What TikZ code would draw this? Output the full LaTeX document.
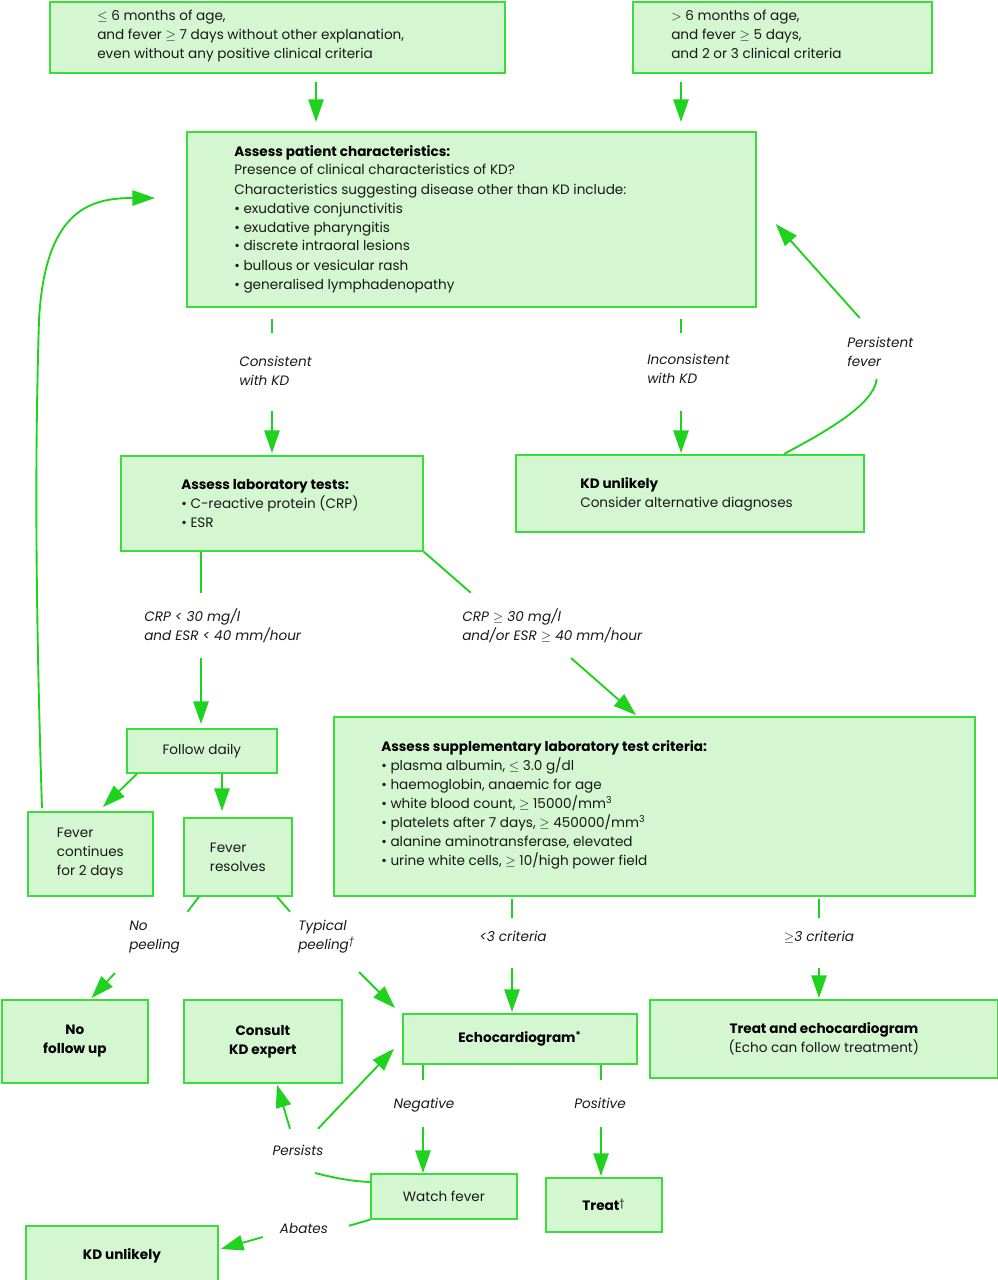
\documentclass[tikz,border=0pt]{standalone}
\usepackage{fontspec}
\setmainfont{Poppins}
\usetikzlibrary{arrows.meta,calc}
\definecolor{kdgreen}{RGB}{60,220,60}
\definecolor{kdfill}{RGB}{212,246,208}
\definecolor{kdline}{RGB}{30,210,30}
\definecolor{kdtext}{RGB}{25,25,25}
\newcommand{\kdpx}{0.75pt}
\newcommand{\kdfont}{\fontsize{10.2pt}{14.25pt}\selectfont}

\begin{document}
\begin{tikzpicture}[x=0.75pt,y=-0.75pt,font=\kdfont,text=kdtext,
    box/.style={draw=kdgreen,fill=kdfill,line width=1.3pt,inner sep=0pt,anchor=north west},
    boxsize/.style 2 args={minimum width=#1*\kdpx,minimum height=#2*\kdpx},
    head/.style={font=\kdfont\bfseries,text=black,align=center},
    txt/.style={align=left,inner sep=0pt,anchor=base west},
    lbl/.style={font=\kdfont\itshape,align=left,inner sep=0pt,anchor=base west},
    clbl/.style={font=\kdfont\itshape,inner sep=0pt,anchor=base},
    line/.style={draw=kdline,line width=1.4pt},
    arr/.style={line,-{Triangle[length=17pt,width=11.5pt]}}]
    \useasboundingbox (0,0) rectangle (998,1280);
    % boxes
    \node[box,boxsize={455}{71}] (ag1) at (49,1) {};
    \node[box,boxsize={299}{71}] (ag2) at (632,1) {};
    \node[box,boxsize={569}{175}] (pat) at (186,131) {};
    \node[box,boxsize={348}{77}] (kdu) at (515,454) {};
    \node[box,boxsize={302}{95}] (lab) at (120,455) {};
    \node[box,boxsize={150}{44},align=center] (daily) at (126,728) {Follow daily};
    \node[box,boxsize={125}{84},align=left] (fcont) at (27,811) {Fever\\continues\\for 2 days};
    \node[box,boxsize={108}{78},align=left] (fres) at (183,817) {Fever\\resolves};
    \node[box,boxsize={641}{179}] (supp) at (333,716) {};
    \node[box,boxsize={146}{83},head] (nofu) at (1,999) {No\\follow up};
    \node[box,boxsize={158}{83},head] (consult) at (183,999) {Consult\\KD expert};
    \node[box,boxsize={234}{50},head] (echo) at (402,1013) {Echocardiogram\textsuperscript{*}};
    \node[box,boxsize={348}{78},align=center] (treatecho) at (649,999) {\textcolor{black}{\bfseries Treat and echocardiogram}\\(Echo can follow treatment)};
    \node[box,boxsize={146}{45},align=center] (watch) at (370,1173) {Watch fever};
    \node[box,boxsize={116}{54},head] (treat) at (545,1177) {Treat\textsuperscript{\mdseries\textdagger}};
    \node[box,boxsize={192}{60},head] (kdu2) at (25,1225) {KD unlikely};
    % texts in the boxes (placed at the baseline of the last line)
    \node[txt] (ag1t) at (97,59) {$\leq$ 6 months of age,\\and fever $\geq$ 7 days without other explanation,\\even without any positive clinical criteria};
    \node[txt] (ag2t) at (671,59) {$>$ 6 months of age,\\and fever $\geq$ 5 days,\\and 2 or 3 clinical criteria};
    \node[txt] (patt) at (234,289) {\textcolor{black}{\bfseries Assess patient characteristics:}\\Presence of clinical characteristics of KD?\\Characteristics suggesting disease other than KD include:\\\textbullet\ exudative conjunctivitis\\\textbullet\ exudative pharyngitis\\\textbullet\ discrete intraoral lesions\\\textbullet\ bullous or vesicular rash\\\textbullet\ generalised lymphadenopathy};
    \node[txt] (kdut) at (580,507) {\textcolor{black}{\bfseries KD unlikely}\\Consider alternative diagnoses};
    \node[txt] (labt) at (181,527) {\textcolor{black}{\bfseries Assess laboratory tests:}\\\textbullet\ C-reactive protein (CRP)\\\textbullet\ ESR};
    \node[txt] (suppt) at (381,865) {\textcolor{black}{\bfseries Assess supplementary laboratory test criteria:}\\\textbullet\ plasma albumin, $\leq$ 3.0 g/dl\\\textbullet\ haemoglobin, anaemic for age\\\textbullet\ white blood count, $\geq$ 15000/mm\textsuperscript{3}\\\textbullet\ platelets after 7 days, $\geq$ 450000/mm\textsuperscript{3}\\\textbullet\ alanine aminotransferase, elevated\\\textbullet\ urine white cells, $\geq$ 10/high power field};
    % labels
    \node[lbl] (lcons) at (239,385) {Consistent\\with KD};
    \node[lbl] (lincons) at (647,383) {Inconsistent\\with KD};
    \node[lbl] (lpers) at (847,366) {Persistent\\fever};
    \node[lbl] (llow) at (144,640) {CRP < 30 mg/l\\and ESR < 40 mm/hour};
    \node[lbl] (lhigh) at (462,640) {CRP $\geq$ 30 mg/l\\and/or ESR $\geq$ 40 mm/hour};
    \node[lbl] (lnopeel) at (129,949) {No\\peeling};
    \node[lbl] (ltyp) at (298,949) {Typical\\peeling\textsuperscript{\textdagger}};
    \node[clbl] (lfew) at (513,941) {<3 criteria};
    \node[clbl] (lmany) at (819,941) {$\geq$3 criteria};
    \node[clbl] (lneg) at (424,1108) {Negative};
    \node[clbl] (lpos) at (600,1108) {Positive};
    \node[clbl] (lpersists) at (298,1155) {Persists};
    \node[clbl] (labates) at (304,1233) {Abates};
    % connectors
    \draw[arr] ($(ag1.south west)+(267,8)$) -- ($(pat.north west)+(130,-9)$);
    \draw[arr] ($(ag2.south west)+(49,8)$) -- ($(pat.north west)+(495,-9)$);
    \draw[line] ($(pat.south west)+(86,11)$) -- +(0,14);
    \draw[arr] ($(lab.north west)+(152,-44)$) -- ($(lab.north west)+(152,-2)$);
    \draw[line] ($(pat.south west)+(495,11)$) -- +(0,14);
    \draw[arr] ($(kdu.north west)+(166,-43)$) -- ($(kdu.north west)+(166,-1)$);
    \draw[line] ($(kdu.north west)+(269,0)$) .. controls +(41,-22) and +(-3,26) .. ($(kdu.north east)+(12,-75)$);
    \draw[arr] ($(kdu.north east)+(-5,-136)$) -- ($(pat.north east)+(19,93)$);
    \draw[line] ($(lab.south west)+(81,0)$) -- +(0,41);
    \draw[arr] ($(daily.north west)+(75,-70)$) -- ($(daily.north west)+(75,-4)$);
    \draw[line] (lab.south east) -- +(47,41);
    \draw[arr] ($(supp.north west)+(238,-58)$) -- ($(supp.north west)+(303,-1)$);
    \draw[arr] ($(daily.south west)+(11,0)$) -- ($(fcont.north west)+(76,-4)$);
    \draw[arr] ($(daily.south west)+(96,0)$) -- ($(fres.north west)+(39,-6)$);
    \draw[arr] ($(fcont.north west)+(15,-3)$) .. controls +(-8,-248) and +(-3,100) .. ++(-3,-488)
        .. controls +(6,-110) and +(-65,0) .. ($(pat.north west)+(-31,67)$);
    \draw[line] ($(fres.south west)+(16,0)$) -- +(-11.5,15);
    \draw[arr] ($(nofu.north west)+(114,-26)$) -- ($(nofu.north west)+(90.5,-1)$);
    \draw[line] ($(fres.south west)+(94,0)$) -- +(13,15);
    \draw[arr] ($(echo.north west)+(-43,-41)$) -- ($(echo.north west)+(-7,-5)$);
    \draw[line] ($(supp.south west)+(179,2)$) -- +(0,19);
    \draw[arr] ($(echo.north west)+(110,-45)$) -- ($(echo.north west)+(110,-1)$);
    \draw[line] ($(supp.south west)+(486,2)$) -- +(0,19);
    \draw[arr] ($(treatecho.north west)+(170,-31)$) -- ($(treatecho.north west)+(170,-1)$);
    \draw[line] ($(echo.south west)+(21,0)$) -- +(0,15);
    \draw[arr] ($(watch.north west)+(53,-46)$) -- ($(watch.north west)+(53,0)$);
    \draw[line] ($(echo.south west)+(199,0)$) -- +(0,15);
    \draw[arr] ($(treat.north west)+(56,-50)$) -- ($(treat.north west)+(56,-1)$);
    \draw[line] ($(watch.north west)+(0,9)$) .. controls +(-20,-1) and +(20,5) .. +(-55,-9);
    \draw[arr] ($(consult.south west)+(107,45)$) -- ($(consult.south west)+(94,1)$);
    \draw[arr] ($(echo.south west)+(-84,64)$) -- ($(echo.south west)+(-8,-16)$);
    \draw[line] (watch.south west) -- +(-21,6);
    \draw[arr] ($(kdu2.north east)+(44,12)$) -- ($(kdu2.north east)+(2,24)$);
\end{tikzpicture}
\end{document}
